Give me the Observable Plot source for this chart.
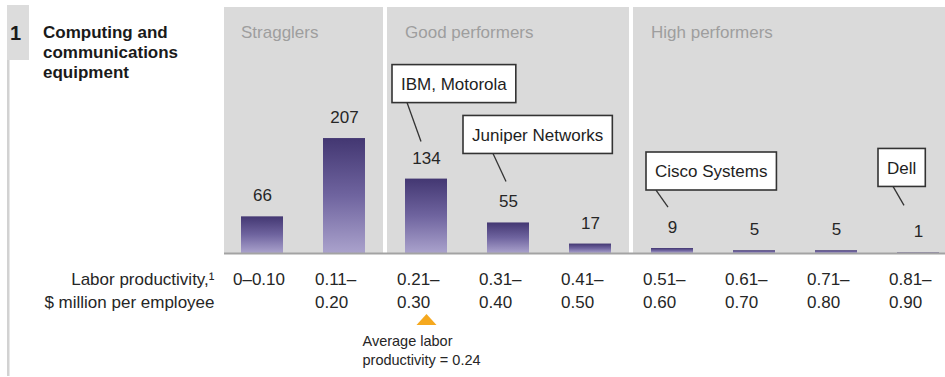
<!DOCTYPE html>
<html><head><meta charset="utf-8">
<script src="https://cdn.jsdelivr.net/npm/d3@7"></script>
<script src="https://cdn.jsdelivr.net/npm/@observablehq/plot@0.6"></script>
<style>
html,body{margin:0;padding:0;background:#fff;}
#chart{width:945px;height:377px;overflow:hidden;}
</style></head><body><div id="chart"></div>
<script>
// ---- data ----
const categories = ["0–0.10","0.11–0.20","0.21–0.30","0.31–0.40","0.41–0.50","0.51–0.60","0.61–0.70","0.71–0.80","0.81–0.90"];
const tickLabels = ["0–0.10","0.11–\n0.20","0.21–\n0.30","0.31–\n0.40","0.41–\n0.50","0.51–\n0.60","0.61–\n0.70","0.71–\n0.80","0.81–\n0.90"];
const companyCounts = [66,207,134,55,17,9,5,5,1];
const groupNames = ["Stragglers","Good performers","High performers"];
const groupFirst = ["0–0.10","0.21–0.30","0.51–0.60"];
const groupLast = ["0.11–0.20","0.41–0.50","0.81–0.90"];
const calloutCompanies = ["IBM, Motorola","Juniper Networks","Cisco Systems","Dell"];
const calloutCategories = ["0.21–0.30","0.31–0.40","0.51–0.60","0.81–0.90"];
const averageCategory = "0.21–0.30";
const averageLabel = "Average labor\nproductivity = 0.24";
const axisTitle = "Labor productivity,¹\n$ million per employee";
const sectionNumber = "1";
const sectionTitle = ["Computing and","communications","equipment"];

// ---- layout / style ----
const FONT = '"Liberation Sans", Arial, Helvetica, sans-serif';
const INK = "#262626";
const table = categories.map((c,i)=>({category:c, count:companyCounts[i]}));
const groups = groupNames.map((n,i)=>({name:n, first:groupFirst[i], last:groupLast[i]}));
// callout offsets relative to (band centre, value-label centre)
const calloutLayout = [
  {left:-34, bottom:-55, from:15, toX:-5,  toY:-16},
  {left:-45, bottom:-48, from:30, toX:-2,  toY:-20},
  {left:-26, bottom:-37, from:10, toX:-4,  toY:-20},
  {left:-40, bottom:-45, from:15, toX:-14, toY:-26}
];
const LABEL_DY = -21;

function bandInfo(x){
  const bw = typeof x.bandwidth === "function" ? x.bandwidth() : 0;
  const step = typeof x.step === "function" ? x.step() : bw;
  return {bw, step};
}

function leftBlock(index, scales, values, dims){
  const g = d3.create("svg:g").attr("font-family", FONT).attr("text-anchor","start");
  g.append("rect").attr("x",7).attr("y",5).attr("width",22).attr("height",55).attr("fill","#dcdcdc");
  g.append("rect").attr("x",7).attr("y",60).attr("width",2.5).attr("height",316).attr("fill","#d2d2d2");
  g.append("text").attr("x",10).attr("y",40).attr("font-size",20).attr("font-weight","bold").attr("fill","#1a1a1a").text(sectionNumber);
  sectionTitle.forEach((t,i)=>g.append("text").attr("x",43).attr("y",37.5+i*20)
    .attr("font-size",17).attr("font-weight","bold").attr("fill","#1a1a1a").text(t));
  return g.node();
}

function panels(index, scales, values, dims){
  const x = scales.x;
  const {bw, step} = bandInfo(x);
  const half = (step-bw)/2;
  const g = d3.create("svg:g");
  const top = dims.marginTop, bottom = dims.height - dims.marginBottom;
  groups.forEach(gr=>{
    const x0 = Math.max(x(gr.first) - half + 2, dims.marginLeft);
    const x1 = Math.min(x(gr.last) + bw + half - 2, dims.width);
    g.append("rect").attr("x",x0).attr("y",top).attr("width",x1-x0).attr("height",bottom-top).attr("fill","#dadada");
  });
  return g.node();
}

function callouts(index, scales, values, dims){
  const x = scales.x, y = scales.y;
  const {bw} = bandInfo(x);
  const g = d3.create("svg:g").attr("font-family", FONT).attr("text-anchor","start");
  calloutCompanies.forEach((name,i)=>{
    const cat = calloutCategories[i];
    const cnt = companyCounts[categories.indexOf(cat)];
    const cx = x(cat) + bw/2;
    const ly = y(cnt) + LABEL_DY;
    const L = calloutLayout[i];
    const bl = cx + L.left, bb = ly + L.bottom, bh = 38;
    const c = g.append("g").attr("class","callout");
    c.append("line").attr("x1",bl+L.from).attr("y1",bb).attr("x2",cx+L.toX).attr("y2",ly+L.toY)
      .attr("stroke","#333").attr("stroke-width",1.3);
    c.append("rect").attr("x",bl).attr("y",bb-bh).attr("width",name.length*8.5+18).attr("height",bh)
      .attr("fill","#fff").attr("stroke","#333").attr("stroke-width",1.6);
    c.append("text").attr("x",bl+9).attr("y",bb-bh/2).attr("dy","0.36em").attr("font-size",17)
      .attr("fill","#1e1e1e").text(name);
  });
  return g.node();
}

const triangle = {draw(ctx){ ctx.moveTo(-10,5.5); ctx.lineTo(10,5.5); ctx.lineTo(0,-5.5); ctx.closePath(); }};

const chart = Plot.plot({
  width: 945, height: 377,
  marginLeft: 224, marginRight: 0, marginTop: 7, marginBottom: 124,
  style: {fontFamily: FONT, fontSize: "17px", background: "#fff"},
  x: {type: "band", domain: categories, range: [196.5, 983.5], paddingInner: 0.482, paddingOuter: 0.482, axis: null},
  y: {domain: [0, 443], axis: null},
  marks: [
    leftBlock,
    panels,
    Plot.text(groups, {x: "first", text: "name", frameAnchor: "top", textAnchor: "start", lineAnchor: "middle",
      dx: -21.5, dy: 25, fill: "#9e9e9e", fontSize: 17}),
    Plot.barY(table, {x: "category", y: "count", fill: "url(#barGrad)"}),
    Plot.ruleY([0], {stroke: "#a3a3a3", strokeWidth: 2}),
    Plot.text(table, {x: "category", y: "count", text: d => String(d.count), dy: LABEL_DY, lineAnchor: "middle",
      fill: INK, fontSize: 17}),
    Plot.axisX({tickSize: 0, tickPadding: 15, tickFormat: d => tickLabels[categories.indexOf(d)],
      textAnchor: "start", dx: -29.5, fontSize: 17, lineHeight: 1.35, fill: INK, label: null}),
    Plot.text([axisTitle], {x: [categories[0]], y: [0], text: d => d, textAnchor: "end", lineAnchor: "top",
      dx: -48, dy: 15, fontSize: 17, lineHeight: 1.35, fill: INK}),
    Plot.dot([averageCategory], {x: d => d, y: () => 0, dy: 66, r: 8, symbol: triangle, fill: "#f5a81e", stroke: "none"}),
    Plot.text([averageLabel], {x: () => averageCategory, y: () => 0, text: d => d, textAnchor: "start", lineAnchor: "top",
      dx: -64, dy: 79, fontSize: 14.5, lineHeight: 1.31, fill: INK}),
    callouts
  ]
});

document.getElementById("chart").append(chart);
const svg = chart.tagName.toLowerCase() === "svg" ? chart : chart.querySelector("svg");
const defs = document.createElementNS("http://www.w3.org/2000/svg","defs");
defs.innerHTML = '<linearGradient id="barGrad" x1="0" y1="0" x2="0" y2="1">' +
  '<stop offset="0" stop-color="#433772"/><stop offset="0.5" stop-color="#6f649f"/><stop offset="1" stop-color="#aaa2cc"/></linearGradient>';
svg.insertBefore(defs, svg.firstChild);
svg.querySelectorAll("g.callout").forEach(g=>{
  const t = g.querySelector("text"), r = g.querySelector("rect");
  const w = t.getComputedTextLength();
  if (w > 0) r.setAttribute("width", w + 18);
});
</script></body></html>
